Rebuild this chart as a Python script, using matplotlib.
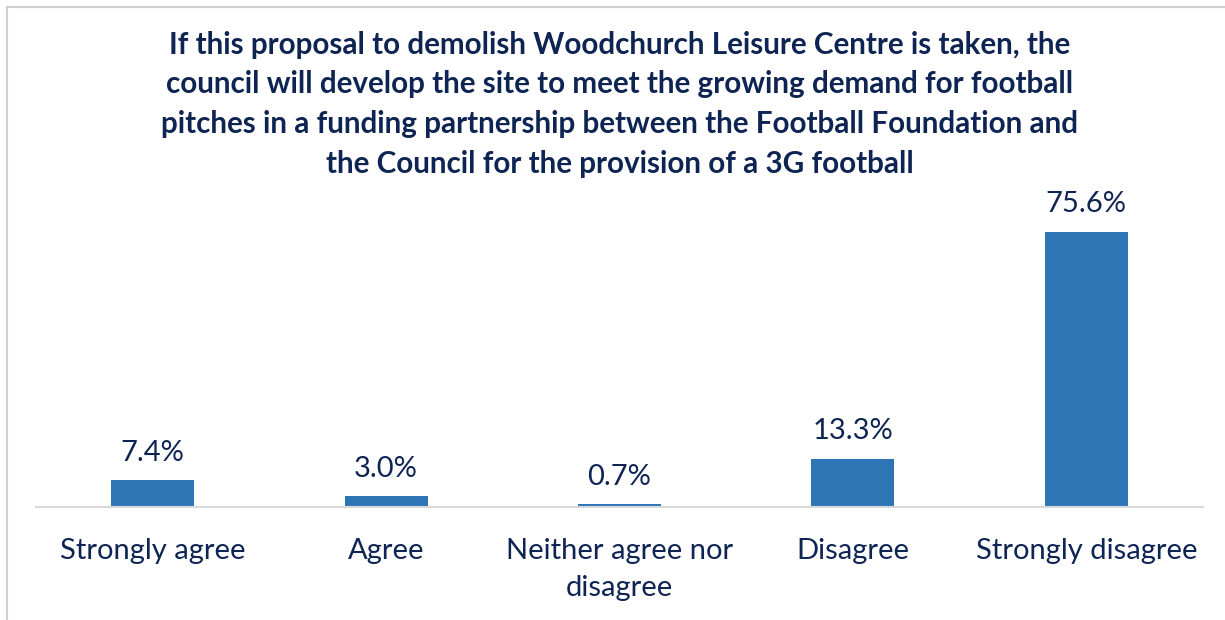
import matplotlib.pyplot as plt
from matplotlib.lines import Line2D

# survey responses
categories = ['Strongly agree', 'Agree', 'Neither agree nor\ndisagree', 'Disagree', 'Strongly disagree']
percent = [7.4, 3.0, 0.7, 13.3, 75.6]
labels = ['7.4%', '3.0%', '0.7%', '13.3%', '75.6%']

title = ('If this proposal to demolish Woodchurch Leisure Centre is taken, the\n'
         'council will develop the site to meet the growing demand for football\n'
         'pitches in a funding partnership between the Football Foundation and\n'
         'the Council for the provision of a 3G football')

navy = '#0E2453'
bar_col = '#2E75B6'
font = ['Lato', 'DejaVu Sans']

fig = plt.figure(figsize=(12.25, 6.2), dpi=100)
ax = fig.add_axes([36 / 1225, 113 / 620, 1167 / 1225, 291 / 620])

x = range(len(categories))
ax.bar(x, percent, width=0.355, color=bar_col)
for i, v in enumerate(percent):
    ax.text(i, v + 4.0, labels[i], ha='center', va='bottom', fontsize=21,
            color=navy, family=font)

ax.set_xlim(-0.5, 4.5)
ax.set_ylim(0, 80)
ax.set_yticks([])
ax.set_xticks(list(x))
ax.set_xticklabels(categories, fontsize=21, color=navy, family=font, linespacing=1.55)
ax.tick_params(axis='x', length=0, pad=22)
for s in ['top', 'right', 'left']:
    ax.spines[s].set_visible(False)
ax.spines['bottom'].set_color('#D9D9D9')
ax.spines['bottom'].set_linewidth(1.5)

fig.text(0.506, 1 - 31 / 620, title, ha='center', va='top', fontsize=21.3,
         fontweight='bold', color=navy, family=font, linespacing=1.5)

# outer chart frame (only top and left edges visible)
fig.add_artist(Line2D([7 / 1225, 7 / 1225], [0, 1 - 7 / 620], transform=fig.transFigure,
                      color='#D0D0D0', lw=1.5))
fig.add_artist(Line2D([7 / 1225, 1], [1 - 7 / 620, 1 - 7 / 620], transform=fig.transFigure,
                      color='#D0D0D0', lw=1.5))

fig.savefig('out.png', dpi=100)
